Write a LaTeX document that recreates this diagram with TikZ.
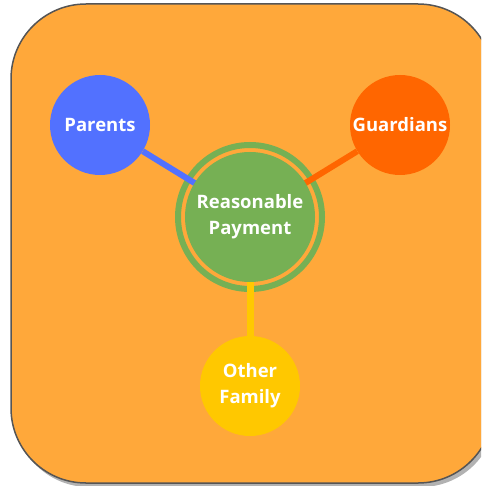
\documentclass[tikz,border=0pt]{standalone}
\usepackage{fontspec}
\setmainfont{Open Sans}
\usetikzlibrary{shadows}
\definecolor{bgorange}{RGB}{255,168,58}
\definecolor{pblue}{RGB}{82,113,255}
\definecolor{gorange}{RGB}{255,102,0}
\definecolor{cgreen}{RGB}{118,176,84}
\definecolor{oyellow}{RGB}{255,200,0}
\definecolor{bordergray}{RGB}{85,85,85}
\tikzset{
  lbl/.style={text=white,font=\fontsize{18.5}{26}\selectfont\bfseries,align=center},
  satellite/.style={circle,minimum size=100pt,inner sep=0pt,lbl},
  link/.style={line width=6pt},
}
\begin{document}
\begin{tikzpicture}[x=1pt,y=-1pt]
\clip (0,0) rectangle (481,486);
\fill[white] (0,0) rectangle (481,486);
\draw[bordergray,line width=1.5pt,fill=bgorange,rounded corners=75pt,
      drop shadow={shadow xshift=3pt,shadow yshift=-4pt,opacity=0.3,fill=black}]
  (11,4) rectangle (493,483);
% outer ring
\node[circle,draw=cgreen,line width=6pt,minimum size=144pt,inner sep=0pt] (ring) at (250,217) {};
\coordinate (c) at (250,217);
% satellites
\node[satellite,fill=pblue] (par) at (100,125) {Parents};
\node[satellite,fill=gorange] (gua) at (400,125) {Guardians};
\node[satellite,fill=oyellow] (oth) at (250,386) {Other\\Family};
% connectors
\draw[link,pblue] (par) -- (c);
\draw[link,gorange] (gua) -- (c);
\draw[link,oyellow,line width=7pt] (oth) -- (c);
% inner disk
\node[circle,fill=cgreen,minimum size=130pt,inner sep=0pt,lbl] (rp) at (c) {Reasonable\\Payment};
\end{tikzpicture}
\end{document}
